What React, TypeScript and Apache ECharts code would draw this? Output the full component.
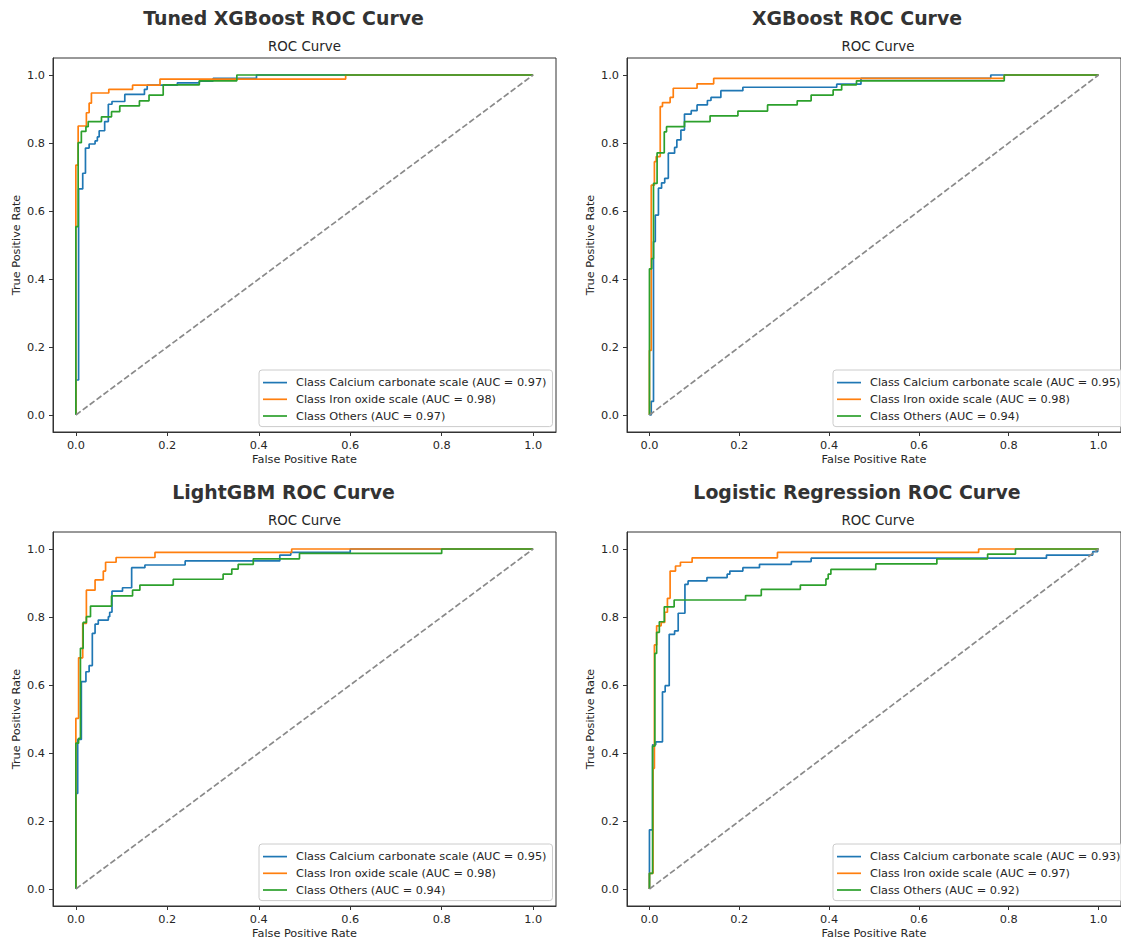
import React, { useEffect, useRef } from "react";
import * as echarts from "echarts";

// ---------- data ----------
const CLASS_COLORS = ["#1f77b4", "#ff7f0e", "#2ca02c"];
const CLASS_NAMES = ["Calcium carbonate scale", "Iron oxide scale", "Others"];
const TICK_VALUES = [0, 0.2, 0.4, 0.6, 0.8, 1.0];
const MODEL_TITLES = [
  "Tuned XGBoost ROC Curve",
  "XGBoost ROC Curve",
  "LightGBM ROC Curve",
  "Logistic Regression ROC Curve",
];
const AUC_VALUES = [
  [0.97, 0.98, 0.97],
  [0.95, 0.98, 0.94],
  [0.95, 0.98, 0.94],
  [0.93, 0.97, 0.92],
];
const DIAGONAL = [[0, 0], [1, 1]];

// Tuned XGBoost
const tunedCalcium = [[0,0],[0,0.103],[0.006,0.103],[0.006,0.665],[0.015,0.665],[0.015,0.711],[0.021,0.711],[0.021,0.785],[0.029,0.785],[0.029,0.797],[0.042,0.797],[0.042,0.806],[0.047,0.806],[0.047,0.818],[0.051,0.818],[0.051,0.836],[0.063,0.836],[0.063,0.863],[0.071,0.863],[0.071,0.914],[0.079,0.914],[0.079,0.922],[0.107,0.922],[0.107,0.943],[0.15,0.943],[0.15,0.958],[0.156,0.958],[0.156,0.97],[0.222,0.97],[0.222,0.977],[0.27,0.977],[0.27,0.982],[0.3,0.982],[0.3,0.99],[0.395,0.99],[0.395,1],[1,1]];
const tunedIron = [[0,0],[0,0.735],[0.005,0.735],[0.005,0.85],[0.023,0.85],[0.023,0.889],[0.029,0.889],[0.029,0.917],[0.034,0.917],[0.034,0.947],[0.072,0.947],[0.072,0.958],[0.124,0.958],[0.124,0.97],[0.184,0.97],[0.184,0.988],[0.59,0.988],[0.59,1],[1,1]];
const tunedOthers = [[0,0],[0,0.554],[0.005,0.554],[0.005,0.801],[0.012,0.801],[0.012,0.834],[0.022,0.834],[0.022,0.848],[0.027,0.848],[0.027,0.863],[0.056,0.863],[0.056,0.877],[0.078,0.877],[0.078,0.892],[0.096,0.892],[0.096,0.909],[0.139,0.909],[0.139,0.924],[0.16,0.924],[0.16,0.941],[0.191,0.941],[0.191,0.971],[0.27,0.971],[0.27,0.983],[0.352,0.983],[0.352,1],[1,1]];

// XGBoost
const xgbCalcium = [[0,0],[0.004,0],[0.004,0.04],[0.009,0.04],[0.009,0.51],[0.013,0.51],[0.013,0.588],[0.02,0.588],[0.02,0.667],[0.027,0.667],[0.027,0.683],[0.034,0.683],[0.034,0.696],[0.042,0.696],[0.042,0.77],[0.056,0.77],[0.056,0.787],[0.061,0.787],[0.061,0.809],[0.07,0.809],[0.07,0.838],[0.078,0.838],[0.078,0.885],[0.093,0.885],[0.093,0.895],[0.106,0.895],[0.106,0.912],[0.129,0.912],[0.129,0.925],[0.137,0.925],[0.137,0.934],[0.159,0.934],[0.159,0.954],[0.208,0.954],[0.208,0.964],[0.417,0.964],[0.417,0.973],[0.471,0.973],[0.471,0.99],[0.76,0.99],[0.76,1],[1,1]];
const xgbIron = [[0,0],[0,0.19],[0.004,0.19],[0.004,0.676],[0.011,0.676],[0.011,0.745],[0.015,0.745],[0.015,0.76],[0.024,0.76],[0.024,0.907],[0.029,0.907],[0.029,0.919],[0.046,0.919],[0.046,0.934],[0.053,0.934],[0.053,0.961],[0.106,0.961],[0.106,0.974],[0.143,0.974],[0.143,0.99],[0.79,0.99],[0.79,1],[1,1]];
const xgbOthers = [[0,0],[0,0.43],[0.005,0.43],[0.005,0.46],[0.009,0.46],[0.009,0.681],[0.017,0.681],[0.017,0.771],[0.033,0.771],[0.033,0.833],[0.038,0.833],[0.038,0.848],[0.078,0.848],[0.078,0.863],[0.135,0.863],[0.135,0.88],[0.197,0.88],[0.197,0.894],[0.263,0.894],[0.263,0.912],[0.329,0.912],[0.329,0.924],[0.36,0.924],[0.36,0.941],[0.409,0.941],[0.409,0.956],[0.428,0.956],[0.428,0.971],[0.461,0.971],[0.461,0.983],[0.79,0.983],[0.79,1],[1,1]];

// LightGBM
const lgbCalcium = [[0,0],[0,0.281],[0.004,0.281],[0.004,0.44],[0.012,0.44],[0.012,0.61],[0.022,0.61],[0.022,0.639],[0.029,0.639],[0.029,0.657],[0.036,0.657],[0.036,0.752],[0.042,0.752],[0.042,0.779],[0.049,0.779],[0.049,0.791],[0.071,0.791],[0.071,0.801],[0.074,0.801],[0.074,0.814],[0.079,0.814],[0.079,0.876],[0.102,0.876],[0.102,0.886],[0.122,0.886],[0.122,0.945],[0.151,0.945],[0.151,0.953],[0.239,0.953],[0.239,0.965],[0.446,0.965],[0.446,0.982],[0.47,0.982],[0.47,0.99],[0.6,0.99],[0.6,1],[1,1]];
const lgbIron = [[0,0],[0,0.502],[0.006,0.502],[0.006,0.68],[0.015,0.68],[0.015,0.781],[0.023,0.781],[0.023,0.879],[0.042,0.879],[0.042,0.909],[0.06,0.909],[0.06,0.935],[0.065,0.935],[0.065,0.961],[0.088,0.961],[0.088,0.975],[0.173,0.975],[0.173,0.99],[0.472,0.99],[0.472,1],[1,1]];
const lgbOthers = [[0,0],[0,0.429],[0.006,0.429],[0.006,0.443],[0.01,0.443],[0.01,0.708],[0.016,0.708],[0.016,0.784],[0.023,0.784],[0.023,0.801],[0.032,0.801],[0.032,0.832],[0.078,0.832],[0.078,0.862],[0.124,0.862],[0.124,0.879],[0.14,0.879],[0.14,0.894],[0.213,0.894],[0.213,0.911],[0.322,0.911],[0.322,0.926],[0.341,0.926],[0.341,0.941],[0.355,0.941],[0.355,0.955],[0.388,0.955],[0.388,0.971],[0.489,0.971],[0.489,0.987],[0.8,0.987],[0.8,1],[1,1]];

// Logistic Regression
const lrCalcium = [[0,0],[0,0.174],[0.007,0.174],[0.007,0.424],[0.014,0.424],[0.014,0.433],[0.029,0.433],[0.029,0.58],[0.035,0.58],[0.035,0.598],[0.044,0.598],[0.044,0.749],[0.056,0.749],[0.056,0.759],[0.064,0.759],[0.064,0.811],[0.079,0.811],[0.079,0.896],[0.086,0.896],[0.086,0.906],[0.128,0.906],[0.128,0.916],[0.173,0.916],[0.173,0.926],[0.179,0.926],[0.179,0.935],[0.208,0.935],[0.208,0.945],[0.245,0.945],[0.245,0.955],[0.316,0.955],[0.316,0.963],[0.36,0.963],[0.36,0.973],[0.884,0.973],[0.884,0.982],[0.987,0.982],[0.987,0.992],[0.998,0.992],[0.998,1],[1,1]];
const lrIron = [[0,0],[0,0.046],[0.008,0.046],[0.008,0.355],[0.011,0.355],[0.011,0.718],[0.016,0.718],[0.016,0.774],[0.026,0.774],[0.026,0.784],[0.034,0.784],[0.034,0.814],[0.04,0.814],[0.04,0.855],[0.046,0.855],[0.046,0.935],[0.058,0.935],[0.058,0.95],[0.069,0.95],[0.069,0.961],[0.095,0.961],[0.095,0.974],[0.285,0.974],[0.285,0.99],[0.733,0.99],[0.733,1],[1,1]];
const lrOthers = [[0,0],[0,0.046],[0.007,0.046],[0.007,0.42],[0.012,0.42],[0.012,0.693],[0.016,0.693],[0.016,0.755],[0.022,0.755],[0.022,0.786],[0.033,0.786],[0.033,0.83],[0.055,0.83],[0.055,0.85],[0.214,0.85],[0.214,0.863],[0.249,0.863],[0.249,0.881],[0.336,0.881],[0.336,0.894],[0.393,0.894],[0.393,0.912],[0.398,0.912],[0.398,0.926],[0.404,0.926],[0.404,0.94],[0.504,0.94],[0.504,0.956],[0.64,0.956],[0.64,0.971],[0.753,0.971],[0.753,0.985],[0.815,0.985],[0.815,1],[1,1]];

const PANEL_CURVES = [
  [tunedCalcium, tunedIron, tunedOthers],
  [xgbCalcium, xgbIron, xgbOthers],
  [lgbCalcium, lgbIron, lgbOthers],
  [lrCalcium, lrIron, lrOthers],
];

// ---------- layout ----------
const FONT = "DejaVu Sans";
const TEXT_COLOR = "#262626";
const SMALL = 11.3;
const PANELS = [
  { left: 53, top: 58, width: 503 },
  { left: 627, top: 58, width: 502 },
  { left: 53, top: 532, width: 503 },
  { left: 627, top: 532, width: 502 },
];
const PANEL_HEIGHT = 374;

function label(panel: number, cls: number) {
  return `Class ${CLASS_NAMES[cls]} (AUC = ${AUC_VALUES[panel][cls].toFixed(2)})`;
}

function buildOption() {
  const grid: any[] = [];
  const xAxis: any[] = [];
  const yAxis: any[] = [];
  const series: any[] = [];
  const title: any[] = [];
  const legend: any[] = [];

  PANELS.forEach((p, i) => {
    grid.push({
      left: p.left,
      top: p.top,
      width: p.width,
      height: PANEL_HEIGHT,
      show: true,
      borderColor: "#333",
      borderWidth: 1,
      backgroundColor: "transparent",
      containLabel: false,
    });
    const common = {
      gridIndex: i,
      type: "value",
      min: -0.05,
      max: 1.05,
      nameLocation: "middle",
      nameTextStyle: { fontSize: SMALL, color: TEXT_COLOR, fontFamily: FONT },
      axisLine: { show: true, onZero: false, lineStyle: { color: "#333", width: 1 } },
      axisTick: { show: true, customValues: TICK_VALUES, length: 4, inside: false, lineStyle: { color: "#333", width: 1 } },
      axisLabel: {
        customValues: TICK_VALUES,
        formatter: (v: number) => Number(v).toFixed(1),
        margin: 8,
        fontSize: SMALL,
        color: TEXT_COLOR,
        fontFamily: FONT,
      },
      splitLine: { show: false },
    };
    xAxis.push({ ...common, name: "False Positive Rate", nameGap: 22 });
    yAxis.push({ ...common, name: "True Positive Rate", nameGap: 31 });

    const names: string[] = [];
    PANEL_CURVES[i].forEach((curve, c) => {
      const nm = label(i, c);
      names.push(nm);
      series.push({
        type: "line",
        name: nm,
        xAxisIndex: i,
        yAxisIndex: i,
        data: curve,
        showSymbol: false,
        symbol: "none",
        color: CLASS_COLORS[c],
        itemStyle: { color: CLASS_COLORS[c] },
        lineStyle: { color: CLASS_COLORS[c], width: 1.7 },
        z: 2 + c,
      });
    });
    series.push({
      type: "line",
      name: "diag" + i,
      xAxisIndex: i,
      yAxisIndex: i,
      data: DIAGONAL,
      showSymbol: false,
      symbol: "none",
      lineStyle: { color: "#8a8a8a", width: 1.7, type: [6, 2.6] },
      z: 6,
    });

    const cx = p.left + p.width / 2;
    title.push({
      text: "ROC Curve",
      left: cx,
      top: p.top - 20,
      textAlign: "center",
      padding: 0,
      textStyle: { fontSize: 13.4, fontWeight: "normal", color: TEXT_COLOR, fontFamily: FONT, lineHeight: 16 },
    });
    title.push({
      text: MODEL_TITLES[i],
      left: cx - 21,
      top: p.top - 52,
      textAlign: "center",
      padding: 0,
      textStyle: { fontSize: 18.9, fontWeight: "bold", color: "#333", fontFamily: FONT, lineHeight: 23 },
    });

    legend.push({
      data: names,
      orient: "vertical",
      left: i % 2 === 0 ? 259 : 833,
      top: p.top + 312,
      align: "left",
      icon: "rect",
      itemWidth: 24,
      itemHeight: 1.7,
      itemGap: 3.5,
      padding: [6, 6, 4, 4],
      borderColor: "#cccccc",
      borderWidth: 1,
      borderRadius: 3,
      backgroundColor: "rgba(255,255,255,0.8)",
      selectedMode: false,
      textStyle: { fontSize: SMALL, color: TEXT_COLOR, fontFamily: FONT, lineHeight: 13.2, padding: [0, 0, 0, 4] },
    });
  });

  return {
    animation: false,
    backgroundColor: "#ffffff",
    textStyle: { fontFamily: FONT },
    grid,
    xAxis,
    yAxis,
    series,
    title,
    legend,
  };
}

export default function App() {
  const ref = useRef<HTMLDivElement>(null);
  useEffect(() => {
    if (!ref.current) return;
    const chart = echarts.init(ref.current, undefined, { renderer: "svg" });
    chart.setOption(buildOption() as any);
    return () => chart.dispose();
  }, []);
  return (
    <div
      ref={ref}
      style={{ position: "absolute", left: 0, top: 0, width: 1121, height: 941, background: "#fff" }}
    />
  );
}
